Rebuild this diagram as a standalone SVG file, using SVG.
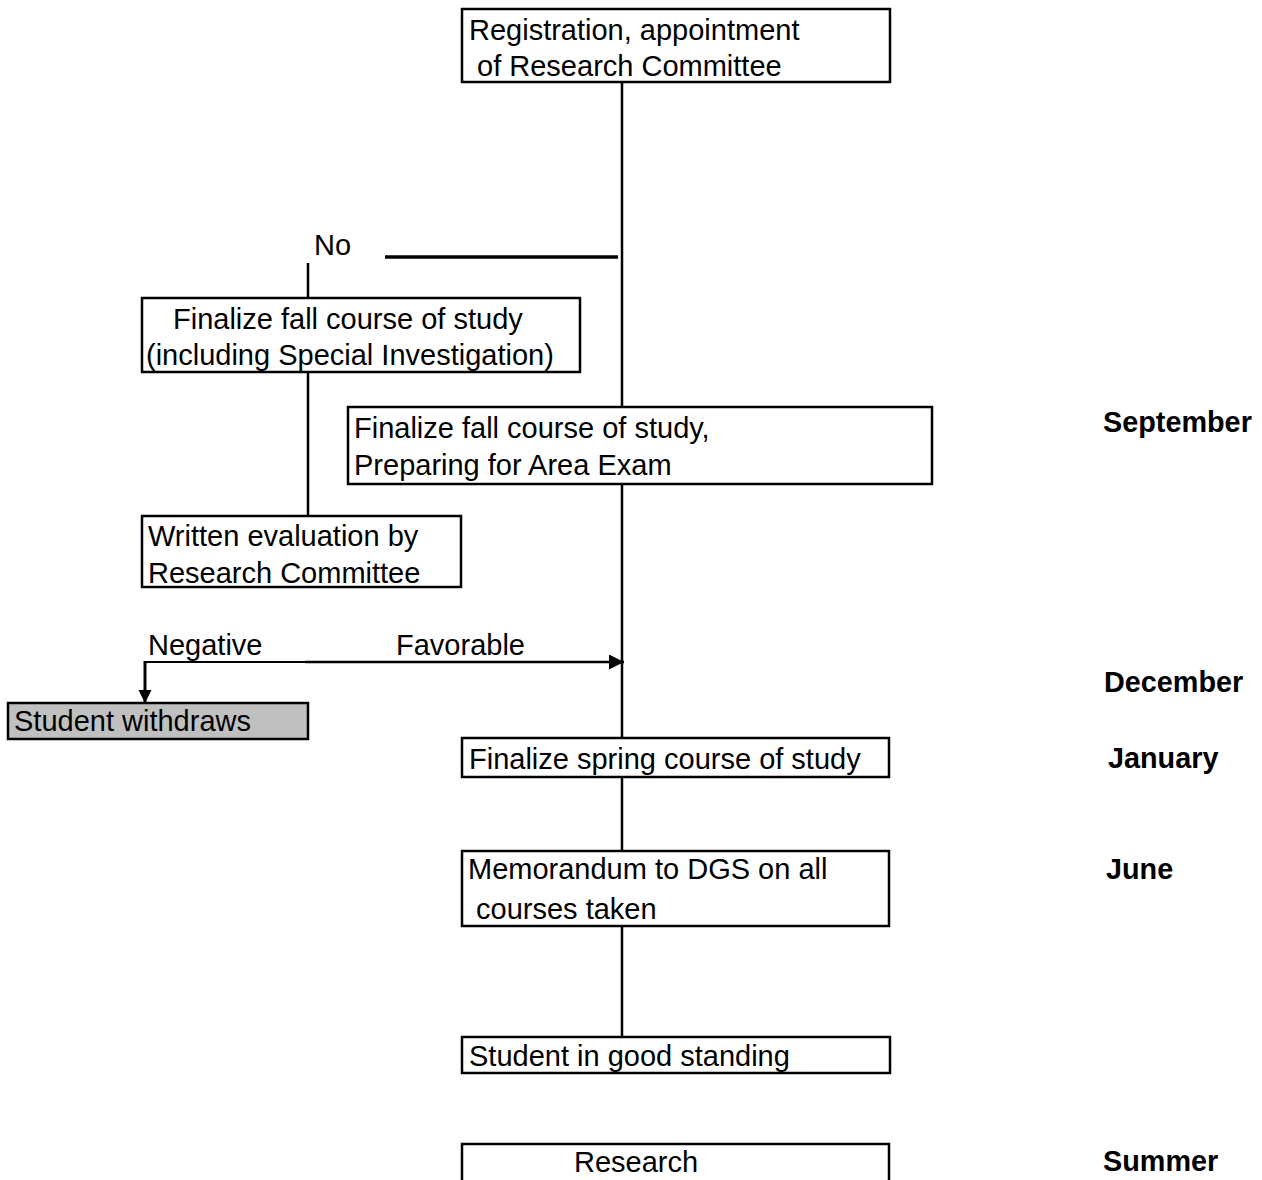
<svg xmlns="http://www.w3.org/2000/svg" width="1262" height="1180" viewBox="0 0 1262 1180">
<defs>
<style>
.box{fill:#fff;stroke:#000;stroke-width:2.5}
.grey{fill:#c0c0c0;stroke:#000;stroke-width:2.5}
.t{font-family:"Liberation Sans",Arial,sans-serif;font-size:29px;fill:#000}
.m{font-family:"Liberation Sans",Arial,sans-serif;font-size:28.8px;font-weight:bold;fill:#000}
.ln{stroke:#000;stroke-width:2.5;fill:none}
</style>
<marker id="ah" viewBox="0 0 10 10" refX="10" refY="5" markerWidth="6" markerHeight="6" orient="auto" markerUnits="strokeWidth">
<path d="M0,0 L10,5 L0,10 z" fill="#000"/>
</marker>
<marker id="ah2" viewBox="0 0 10 10" refX="10" refY="5" markerWidth="4.5" markerHeight="4.5" orient="auto" markerUnits="strokeWidth">
<path d="M0,0 L10,5 L0,10 z" fill="#000"/>
</marker>
</defs>
<rect width="1262" height="1180" fill="#fff"/>
<g id="connectors">
<line class="ln" x1="622" y1="74" x2="622" y2="407"/>
<line class="ln" x1="385" y1="257" x2="618" y2="257" style="stroke-width:3.5"/>
<line class="ln" x1="308" y1="263" x2="308" y2="298"/>
<line class="ln" x1="308" y1="362" x2="308" y2="516"/>
<line class="ln" x1="622" y1="478" x2="622" y2="738"/>
<line class="ln" x1="622" y1="777" x2="622" y2="851"/>
<line class="ln" x1="622" y1="926" x2="622" y2="1037"/>
<line class="ln" x1="145" y1="662" x2="305" y2="662" style="stroke-width:2"/>
<line class="ln" x1="305" y1="662" x2="624" y2="662" marker-end="url(#ah)"/>
<line class="ln" x1="145" y1="661" x2="145" y2="703" marker-end="url(#ah2)" style="stroke-width:3"/>
</g>
<g id="n1"><rect class="box" x="462" y="9" width="428" height="73"/>
<text class="t" x="469" y="40">Registration, appointment</text>
<text class="t" x="469" y="76" xml:space="preserve"> of Research Committee</text></g>
<g id="no"><text class="t" x="314" y="255">No</text></g>
<g id="n2"><rect class="box" x="142" y="298" width="438" height="74"/>
<text class="t" x="173" y="329">Finalize fall course of study</text>
<text class="t" x="146" y="365">(including Special Investigation)</text></g>
<g id="n3"><rect class="box" x="348" y="407" width="584" height="77"/>
<text class="t" x="354" y="438">Finalize fall course of study,</text>
<text class="t" x="354" y="475">Preparing for Area Exam</text></g>
<g id="n4"><rect class="box" x="142" y="516" width="319" height="71"/>
<text class="t" x="148" y="546">Written evaluation by</text>
<text class="t" x="148" y="583">Research Committee</text></g>
<g id="lbl"><text class="t" x="148" y="655">Negative</text>
<text class="t" x="396" y="655">Favorable</text></g>
<g id="n5"><rect class="grey" x="8" y="703" width="300" height="36"/>
<text class="t" x="14" y="731">Student withdraws</text></g>
<g id="n6"><rect class="box" x="462" y="738" width="427" height="39"/>
<text class="t" x="469" y="769">Finalize spring course of study</text></g>
<g id="n7"><rect class="box" x="462" y="851" width="427" height="75"/>
<text class="t" x="468" y="879">Memorandum to DGS on all</text>
<text class="t" x="468" y="919" xml:space="preserve"> courses taken</text></g>
<g id="n8"><rect class="box" x="462" y="1037" width="428" height="36"/>
<text class="t" x="469" y="1066">Student in good standing</text></g>
<g id="n9"><rect class="box" x="462" y="1144" width="427" height="40"/>
<text class="t" x="636" y="1172" text-anchor="middle">Research</text></g>
<g id="months">
<text class="m" x="1103" y="432">September</text>
<text class="m" x="1104" y="692">December</text>
<text class="m" x="1108" y="768">January</text>
<text class="m" x="1106" y="879">June</text>
<text class="m" x="1103" y="1171">Summer</text>
</g>
</svg>
